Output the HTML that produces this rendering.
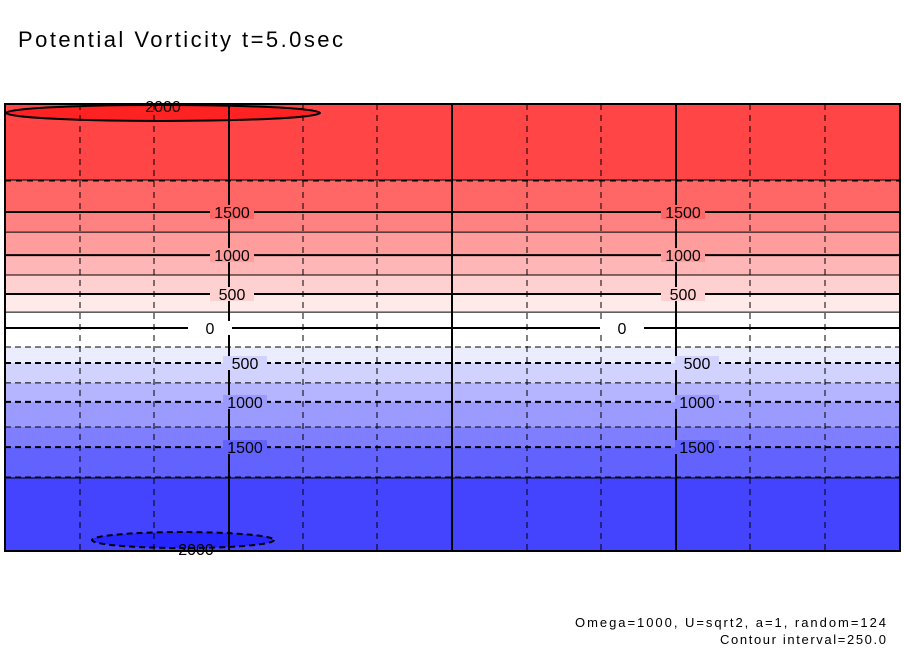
<!DOCTYPE html>
<html><head><meta charset="utf-8"><style>
body{margin:0;background:#fff;width:904px;height:654px;overflow:hidden;font-family:"Liberation Sans",sans-serif}
svg{position:absolute;left:0;top:0}
</style></head><body>
<svg id="c" width="904" height="654">
<text x="18" y="47" font-size="22" textLength="325" fill="#000" font-family="Liberation Sans, sans-serif">Potential Vorticity t=5.0sec</text>
<text x="575" y="627" font-size="13" textLength="311" font-family="Liberation Sans, sans-serif">Omega=1000, U=sqrt2, a=1, random=124</text>
<text x="720" y="644" font-size="13" textLength="166" font-family="Liberation Sans, sans-serif">Contour interval=250.0</text>
</svg>
<script>
const levels=[2000,1750,1500,1250,1000,750,500,250,0,-250,-500,-750,-1000,-1250,-1500,-1750,-2000];
const levelPos=[0.96,0.66,0.517,0.427,0.324,0.235,0.15,0.069,-0.002,-0.087,-0.159,-0.248,-0.333,-0.445,-0.535,-0.669,-0.951];
const bandColors=["#ff2222","#ff4545","#ff6666","#ff8282","#ff9d9d","#ffb6b6","#ffd0d0","#ffeaea","#ffffff","#ffffff","#ececff","#d2d2ff","#b4b4ff","#9a9aff","#7e7eff","#6262ff","#4444ff","#2626ff"];
const labeled=[2000,1500,1000,500,0,-500,-1000,-1500,-2000];
const X0=5,X1=900,Y0=104,Y1=551;
const yS=v=>Y1-(v+1)/2*(Y1-Y0);
const svg=document.getElementById('c');
const NS='http://www.w3.org/2000/svg';
function mk(t,a){const e=document.createElementNS(NS,t);for(const k in a)e.setAttribute(k,a[k]);svg.appendChild(e);return e;}
let bandTop=Y0;
for(let i=1;i<levels.length-1;i++){
  const y=yS(levelPos[i]);
  const r=mk('rect',{x:X0,y:bandTop,width:X1-X0,height:y-bandTop,fill:bandColors[i]});
  
  
  bandTop=y;
}
const rb=mk('rect',{x:X0,y:bandTop,width:X1-X0,height:Y1-bandTop,fill:bandColors[16]});


const e1=mk('ellipse',{cx:163,cy:yS(levelPos[0]),rx:157,ry:8,fill:bandColors[0],stroke:'#000','stroke-width':2});


const e2=mk('ellipse',{cx:183,cy:yS(levelPos[16]),rx:91,ry:8,fill:bandColors[17],stroke:'#000','stroke-width':2,'stroke-dasharray':'6 4'});


const vx=[80,154,229,303,377,452,527,601,676,750,825];
vx.forEach((x,i)=>{const solid=(i===2||i===5||i===8);
  const l=mk('line',{x1:x,y1:Y0,x2:x,y2:Y1,stroke:'#000','stroke-width':solid?2:1,'stroke-dasharray':solid?'none':'6 5'});
  
  });
const hg=mk('line',{x1:X0,y1:181,x2:X1,y2:181,stroke:'#000','stroke-width':1,'stroke-dasharray':'6 5'});


const hg2=mk('line',{x1:X0,y1:478,x2:X1,y2:478,stroke:'#000','stroke-width':1});


for(let i=1;i<levels.length-1;i++){
  const v=levels[i],y=yS(levelPos[i]);
  const thick=labeled.includes(v);
  const l=mk('line',{x1:X0,y1:y,x2:X1,y2:y,stroke:'#000','stroke-width':thick?2:1,'stroke-dasharray':v<0?'6 4':'none'});
  
  
  if(thick){
    [v===0?210:(v<0?245:232), v===0?622:(v<0?697:683)].forEach(cx=>{
      const bg=mk('rect',{x:cx-22,y:y-7,width:44,height:14,fill:bandColors[i+(v>0?0:1)]});
      
      
      const t=mk('text',{x:cx,y:y+6,'font-size':16,'text-anchor':'middle'});
      t.textContent=v===0?'0':String(Math.abs(v));
      
      
    });
  }
}
const t1=mk('text',{x:163,y:112,'font-size':16,'text-anchor':'middle'});t1.textContent='2000';


const t2=mk('text',{x:196,y:555,'font-size':16,'text-anchor':'middle'});t2.textContent='2000';


const fr=mk('rect',{x:X0,y:Y0,width:X1-X0,height:Y1-Y0,fill:'none',stroke:'#000','stroke-width':2});


</script>
</body></html>
